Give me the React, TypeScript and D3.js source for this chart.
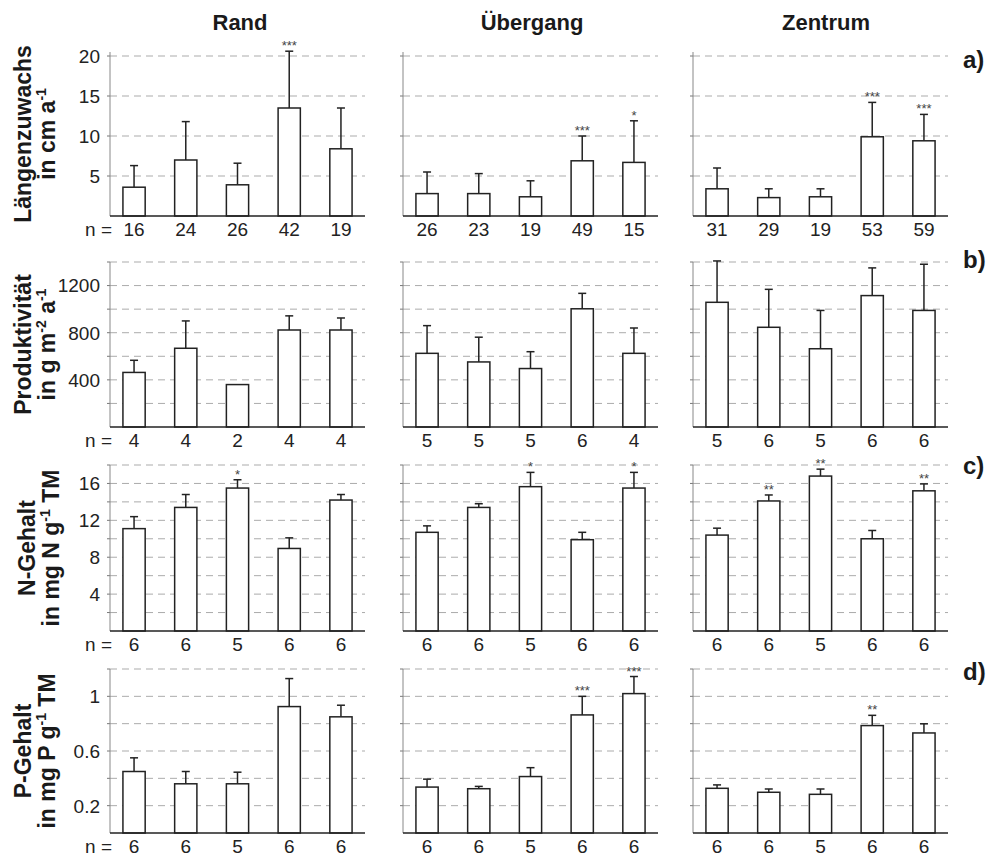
import React from "react";
import * as d3 from "d3";

// ---------- data ----------
const columns = ["Rand", "Übergang", "Zentrum"];
const rowLetters = ["a)", "b)", "c)", "d)"];
const categories = ["k1", "k2", "k3", "k4", "k5"];

// a) Längenzuwachs (cm a-1)
const laengeMean = [
  [3.6, 7.0, 3.9, 13.5, 8.4],
  [2.8, 2.8, 2.4, 6.9, 6.7],
  [3.4, 2.3, 2.4, 9.9, 9.4],
];
const laengeSd = [
  [2.7, 4.8, 2.7, 7.1, 5.1],
  [2.7, 2.5, 2.0, 3.1, 5.2],
  [2.6, 1.1, 1.0, 4.3, 3.3],
];
const laengeN = [
  [16, 24, 26, 42, 19],
  [26, 23, 19, 49, 15],
  [31, 29, 19, 53, 59],
];
const laengeStars = [
  ["", "", "", "***", ""],
  ["", "", "", "***", "*"],
  ["", "", "", "***", "***"],
];

// b) Produktivität (g m-2 a-1)
const prodMean = [
  [463, 668, 360, 823, 823],
  [625, 552, 496, 1003, 625],
  [1058, 846, 664, 1115, 989],
];
const prodSd = [
  [103, 232, null, 120, 102],
  [235, 210, 143, 131, 215],
  [351, 322, 325, 235, 392],
];
const prodN = [
  [4, 4, 2, 4, 4],
  [5, 5, 5, 6, 4],
  [5, 6, 5, 6, 6],
];
const prodStars = [
  ["", "", "", "", ""],
  ["", "", "", "", ""],
  ["", "", "", "", ""],
];

// c) N-Gehalt (mg N g-1 TM)
const nMean = [
  [11.1, 13.4, 15.5, 8.95, 14.2],
  [10.7, 13.4, 15.65, 9.9, 15.5],
  [10.4, 14.1, 16.8, 10.0, 15.2],
];
const nSd = [
  [1.3, 1.4, 0.9, 1.15, 0.6],
  [0.7, 0.4, 1.55, 0.8, 1.7],
  [0.75, 0.65, 0.75, 0.9, 0.75],
];
const nN = [
  [6, 6, 5, 6, 6],
  [6, 6, 5, 6, 6],
  [6, 6, 5, 6, 6],
];
const nStars = [
  ["", "", "*", "", ""],
  ["", "", "*", "", "*"],
  ["", "**", "**", "", "**"],
];

// d) P-Gehalt (mg P g-1 TM)
const pMean = [
  [0.45, 0.36, 0.36, 0.925, 0.85],
  [0.336, 0.324, 0.413, 0.864, 1.02],
  [0.327, 0.298, 0.283, 0.786, 0.732],
];
const pSd = [
  [0.1, 0.09, 0.085, 0.205, 0.085],
  [0.058, 0.017, 0.065, 0.136, 0.125],
  [0.025, 0.024, 0.039, 0.075, 0.067],
];
const pN = [
  [6, 6, 5, 6, 6],
  [6, 6, 5, 6, 6],
  [6, 6, 5, 6, 6],
];
const pStars = [
  ["", "", "", "", ""],
  ["", "", "", "***", "***"],
  ["", "", "", "**", ""],
];

// axes
const yMaxA = 20.5;
const gridA = [5, 10, 15, 20];
const labelsA = [5, 10, 15, 20];
const yMaxB = 1400;
const gridB = [200, 400, 600, 800, 1000, 1200, 1400];
const labelsB = [400, 800, 1200];
const yMaxC = 18;
const gridC = [2, 4, 6, 8, 10, 12, 14, 16, 18];
const labelsC = [4, 8, 12, 16];
const yMaxD = 1.2;
const gridD = [0.2, 0.4, 0.6, 0.8, 1.0, 1.2];
const labelsD = [0.2, 0.6, 1];

const yLabel1 = ["Längenzuwachs", "Produktivität", "N-Gehalt", "P-Gehalt"];
const yLabel2 = [
  [["in cm a", ""], ["-1", "sup"]],
  [["in g m", ""], ["-2", "sup"], [" a", ""], ["-1", "sup"]],
  [["in mg N g", ""], ["-1", "sup"], [" TM", ""]],
  [["in mg P g", ""], ["-1", "sup"], [" TM", ""]],
];

// ---------- layout ----------
const W = 993;
const H = 860;
const FONT = "'Liberation Sans', Arial, sans-serif";
const colX = [110, 403, 693];
const panelW = 255;
const rowBase = [216, 427, 631, 833];
const rowTop = [52, 262, 465, 669];
const titleX = [240, 532, 826];
const letterY = [68, 268, 474, 680];
const label1X = [31, 31, 35, 31];
const label2X = [55, 55, 59, 55];

const rows = [
  { mean: laengeMean, sd: laengeSd, n: laengeN, stars: laengeStars, max: yMaxA, grid: gridA, labels: labelsA },
  { mean: prodMean, sd: prodSd, n: prodN, stars: prodStars, max: yMaxB, grid: gridB, labels: labelsB },
  { mean: nMean, sd: nSd, n: nN, stars: nStars, max: yMaxC, grid: gridC, labels: labelsC },
  { mean: pMean, sd: pSd, n: pN, stars: pStars, max: yMaxD, grid: gridD, labels: labelsD },
];

const fmt = (v: number) => d3.format("~g")(v);

export default function App() {
  return (
    <svg
      width={W}
      height={H}
      style={{ display: "block", background: "#fff", position: "absolute", left: 0, top: 0 }}
      fontFamily={FONT}
    >
      <rect x={0} y={0} width={W} height={H} fill="#fff" />
      {columns.map((c, ci) => (
        <text key={c} x={titleX[ci]} y={30} textAnchor="middle" fontWeight="bold" fontSize={22} fill="#1a1a1a">
          {c}
        </text>
      ))}
      {rows.map((row, ri) => {
        const y = d3.scaleLinear().domain([0, row.max]).range([rowBase[ri], rowTop[ri]]);
        const midY = (rowBase[ri] + rowTop[ri]) / 2;
        return (
          <g key={ri}>
            <text
              transform={`translate(${label1X[ri]},${midY}) rotate(-90)`}
              textAnchor="middle"
              fontWeight="bold"
              fontSize={23}
              fill="#1a1a1a"
            >
              {yLabel1[ri]}
            </text>
            <text
              transform={`translate(${label2X[ri]},${midY}) rotate(-90)`}
              textAnchor="middle"
              fontWeight="bold"
              fontSize={23}
              fill="#1a1a1a"
            >
              {yLabel2[ri].map(([t, k], i) =>
                k === "sup" ? (
                  <tspan key={i} fontSize={14} dy={-9}>
                    {t}
                  </tspan>
                ) : (
                  <tspan key={i} dy={i === 0 ? 0 : 9}>
                    {t}
                  </tspan>
                )
              )}
            </text>
            <text x={963} y={letterY[ri]} fontWeight="bold" fontSize={24} fill="#1a1a1a">
              {rowLetters[ri]}
            </text>
            {columns.map((c, ci) => {
              const x0 = colX[ci];
              const x = d3
                .scaleBand<string>()
                .domain(categories)
                .range([x0, x0 + panelW])
                .paddingInner(0.57)
                .paddingOuter(0.25);
              const bw = x.bandwidth();
              return (
                <g key={c}>
                  {row.grid.map((g) => (
                    <line
                      key={g}
                      x1={x0}
                      x2={x0 + panelW}
                      y1={y(g)}
                      y2={y(g)}
                      stroke="#ababab"
                      strokeWidth={1}
                      strokeDasharray="7,5"
                    />
                  ))}
                  {row.grid.map((g) => (
                    <line key={"t" + g} x1={x0 - 3} x2={x0} y1={y(g)} y2={y(g)} stroke="#777" strokeWidth={1} />
                  ))}
                  <line x1={x0} x2={x0} y1={y(0)} y2={y(row.max)} stroke="#888" strokeWidth={1} />
                  {ci === 0 &&
                    row.labels.map((l) => (
                      <text key={l} x={x0 - 10} y={y(l)} dy="0.36em" textAnchor="end" fontSize={19} fill="#222">
                        {fmt(l)}
                      </text>
                    ))}
                  {categories.map((k, i) => {
                    const m = row.mean[ci][i];
                    const s = row.sd[ci][i];
                    const bx = x(k) as number;
                    const cx = bx + bw / 2;
                    const top = s == null ? y(m) : y(m + s);
                    return (
                      <g key={k}>
                        {s != null && (
                          <g stroke="#222" strokeWidth={1.5}>
                            <line x1={cx} x2={cx} y1={y(m)} y2={y(m + s)} />
                            <line x1={cx - 4} x2={cx + 4} y1={y(m + s)} y2={y(m + s)} />
                          </g>
                        )}
                        <rect
                          x={bx}
                          y={y(m)}
                          width={bw}
                          height={y(0) - y(m)}
                          fill="#fff"
                          stroke="#222"
                          strokeWidth={1.5}
                        />
                        {row.stars[ci][i] && (
                          <text x={cx} y={top - 1} textAnchor="middle" fontSize={13} fill="#444">
                            {row.stars[ci][i]}
                          </text>
                        )}
                        <text x={cx} y={rowBase[ri] + 20} textAnchor="middle" fontSize={19} fill="#222">
                          {row.n[ci][i]}
                        </text>
                      </g>
                    );
                  })}
                  <line x1={x0} x2={x0 + panelW} y1={y(0)} y2={y(0)} stroke="#222" strokeWidth={1.5} />
                  {ci === 0 && (
                    <text x={x0 + 2} y={rowBase[ri] + 20} textAnchor="end" fontSize={19} fill="#222">
                      n =
                    </text>
                  )}
                </g>
              );
            })}
          </g>
        );
      })}
    </svg>
  );
}
